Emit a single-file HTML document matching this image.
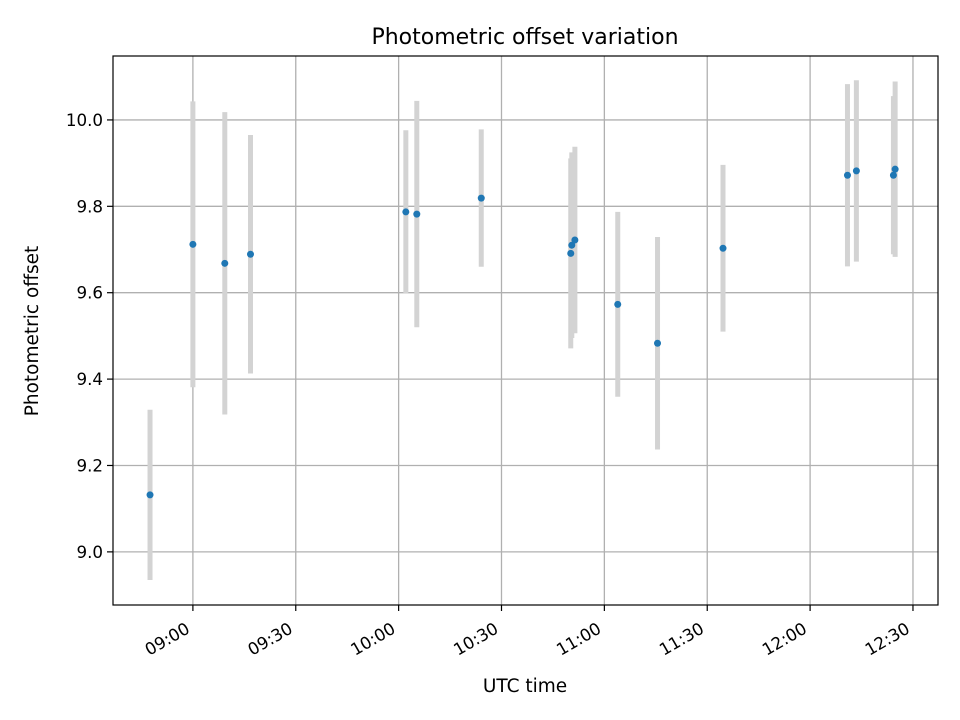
<!DOCTYPE html>
<html><head><meta charset="utf-8"><style>
body{margin:0;background:#fff;}
svg{display:block;font-family:"DejaVu Sans","Liberation Sans",sans-serif;}
</style></head><body>
<svg id="chart" width="960" height="720" viewBox="0 0 960 720" xmlns="http://www.w3.org/2000/svg">
<rect width="960" height="720" fill="#fff"/>
<text x="525" y="44" text-anchor="middle" font-size="22">Photometric offset variation</text>
<text x="525" y="692" text-anchor="middle" font-size="18.5">UTC time</text>
<text transform="translate(38,331) rotate(-90)" text-anchor="middle" font-size="18.5">Photometric offset</text>
<g id="grid"></g><g id="bars"></g><g id="pts"></g><g id="axes"></g>
</svg>
<script>
// minutes after 09:00 UTC
const times=[-12.5,0,9.3,16.8,62.1,65.3,84.1,110.2,110.5,111.4,123.9,135.5,154.6,190.9,193.5,204.3,204.8];
const values=[9.132,9.712,9.668,9.689,9.787,9.782,9.819,9.691,9.710,9.722,9.573,9.483,9.703,9.872,9.882,9.872,9.886];
const errors=[0.197,0.331,0.350,0.276,0.189,0.262,0.159,0.22,0.215,0.216,0.214,0.246,0.193,0.211,0.210,0.183,0.203];
const yTicks=[9.0,9.2,9.4,9.6,9.8,10.0];
const xTicks=[0,30,60,90,120,150,180,210];
const xTickLabels=["09:00","09:30","10:00","10:30","11:00","11:30","12:00","12:30"];
const L=113,R=938,T=56,B=605;
const xMin=-23.3,xMax=217.3,yMin=8.877,yMax=10.148;
const X=t=>L+(t-xMin)/(xMax-xMin)*(R-L);
const Y=v=>B-(v-yMin)/(yMax-yMin)*(B-T);
const NS="http://www.w3.org/2000/svg";
function mk(tag,attrs,parent){const e=document.createElementNS(NS,tag);for(const k in attrs)e.setAttribute(k,attrs[k]);document.getElementById(parent).appendChild(e);return e;}
yTicks.forEach(v=>{
 const g=mk('line',{x1:L,x2:R,y1:Y(v),y2:Y(v),stroke:'#b0b0b0','stroke-width':1.3},'grid');
 
 
 const t=mk('line',{x1:L-6,x2:L,y1:Y(v),y2:Y(v),stroke:'#000','stroke-width':1.2},'axes');
 
 
 const l=mk('text',{x:L-10,y:Y(v)+6,'text-anchor':'end','font-size':16.7},'axes');
 
 
 l.textContent=v.toFixed(1);
});
xTicks.forEach((m,i)=>{
 const g=mk('line',{x1:X(m),x2:X(m),y1:T,y2:B,stroke:'#b0b0b0','stroke-width':1.3},'grid');
 
 
 const t=mk('line',{x1:X(m),x2:X(m),y1:B,y2:B+6,stroke:'#000','stroke-width':1.2},'axes');
 
 
 const l=mk('text',{transform:`translate(${X(m)-2},${B+27}) rotate(-30)`,'text-anchor':'end','font-size':16.7},'axes');
 
 
 l.textContent=xTickLabels[i];
});
const fr=mk('rect',{x:L,y:T,width:R-L,height:B-T,fill:'none',stroke:'#000','stroke-width':1.2},'axes');


times.forEach((m,i)=>{
 const b=mk('line',{x1:X(m),x2:X(m),y1:Y(values[i]+errors[i]),y2:Y(values[i]-errors[i]),stroke:'#d3d3d3','stroke-width':5},'bars');
 
 
 const p=mk('circle',{cx:X(m),cy:Y(values[i]),r:3.5,fill:'#1f77b4'},'pts');
 
 
});
</script>
</body></html>
